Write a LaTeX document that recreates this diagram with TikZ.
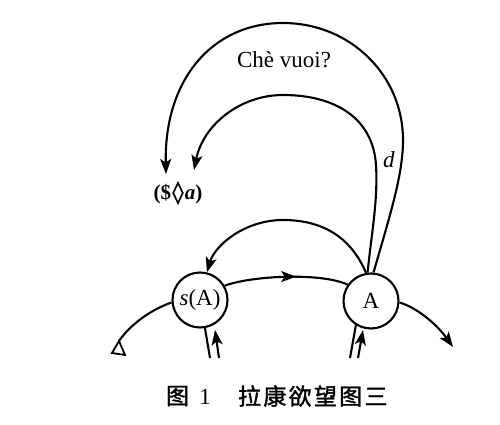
\documentclass[tikz,border=0pt]{standalone}
\usepackage{fontspec}
\setmainfont{Liberation Serif}
\newfontfamily\cjk[FakeBold=1.5]{Noto Sans CJK SC}
\newfontfamily\cjkwide[FakeBold=1.5,LetterSpace=10]{Noto Sans CJK SC}
\newfontfamily\symfont[FakeBold=2]{DejaVu Sans}
\usetikzlibrary{arrows.meta,decorations.markings}
\begin{document}
\begin{tikzpicture}[x=1pt,y=-1pt,
  line width=2.1pt,
  tipst/.style={-{Stealth[length=15pt,width=11pt,inset=3.5pt]}},
  midtip/.style={decoration={markings,mark=at position #1 with {\arrow{Stealth[length=15pt,width=11pt,inset=3.5pt]}}},postaction={decorate}},
  circ/.style={circle,draw,minimum size=55pt,inner sep=0pt,font=\fontsize{23}{25}\selectfont},
  lbl/.style={inner sep=0pt,font=\fontsize{23}{25}\selectfont}]
\useasboundingbox (0,0) rectangle (500,425);
\fill[white] (0,0) rectangle (500,425);

\node[circ] (sA) at (200,300) {\textit{s}(A)};
\node[circ] (A) at (371,301) {A};

% texts
\node[lbl] (chev) at (284,60) {Chè vuoi?};
\node[lbl] (d) at (389,160) {\textit{d}};
\node[lbl,font=\fontsize{21}{24}\selectfont\bfseries] (mat) at (178,193) {(\$\kern1.5pt{\symfont\fontsize{22}{24}\selectfont ◊}\kern1.5pt\textit{a})};

% coordinates
\coordinate (outEnd) at (166,174);
\coordinate (inEnd) at (194,170);
\coordinate (leftEnd) at (119,341);
\coordinate (rightEnd) at (453,347);
\coordinate (sL1) at (210,358);
\coordinate (sL2b) at (219,358);
\coordinate (sL2t) at (215,330);
\coordinate (aL1) at (350,358);
\coordinate (aL2b) at (358,358);
\coordinate (aL2t) at (363,330);

% big outer arc
\draw[tipst] (A.85) .. controls (390,215) and (403,175) .. (403,140)
  .. controls (403,75) and (350,23) .. (283,23)
  .. controls (212,23) and (164,80) .. (outEnd);
% inner arc
\draw[tipst] (A.97) .. controls (372,230) and (378,200) .. (376,165)
  .. controls (373,118) and (335,95) .. (283,95)
  .. controls (240,95) and (203,125) .. (inEnd);
% arc from A to s(A)
\draw[tipst] (A.100) .. controls (350,235) and (320,220) .. (283,220)
  .. controls (245,220) and (215,245) .. (sA.76);
% middle arc
\draw[midtip=0.58] (sA.30) .. controls (250,276) and (320,272) .. (A.145);
% left line with open triangle
\draw (sA.185) .. controls (150,310) and (130,325) .. (leftEnd);
\draw[line width=1.8pt,line join=miter] (leftEnd) -- (112,353) -- (125,355) -- cycle;
% right line
\draw[tipst] (A.-3) .. controls (415,307) and (435,322) .. (rightEnd);
% lines below s(A)
\draw (sA.-80) -- (sL1);
\draw[tipst] (sL2b) -- (sL2t);
% lines below A
\draw (A.-122) -- (aL1);
\draw[tipst] (aL2b) -- (aL2t);

% caption
\node[inner sep=0pt,anchor=west,font=\fontsize{23}{25}\selectfont] (fig) at (165,396) {\cjk 图};
\node[inner sep=0pt,font=\fontsize{23}{25}\selectfont] (num) at (205,397) {1};
\node[inner sep=0pt,anchor=west,font=\fontsize{23}{25}\selectfont] (cap) at (237,396) {\cjkwide 拉康欲望图三};
\end{tikzpicture}
\end{document}
